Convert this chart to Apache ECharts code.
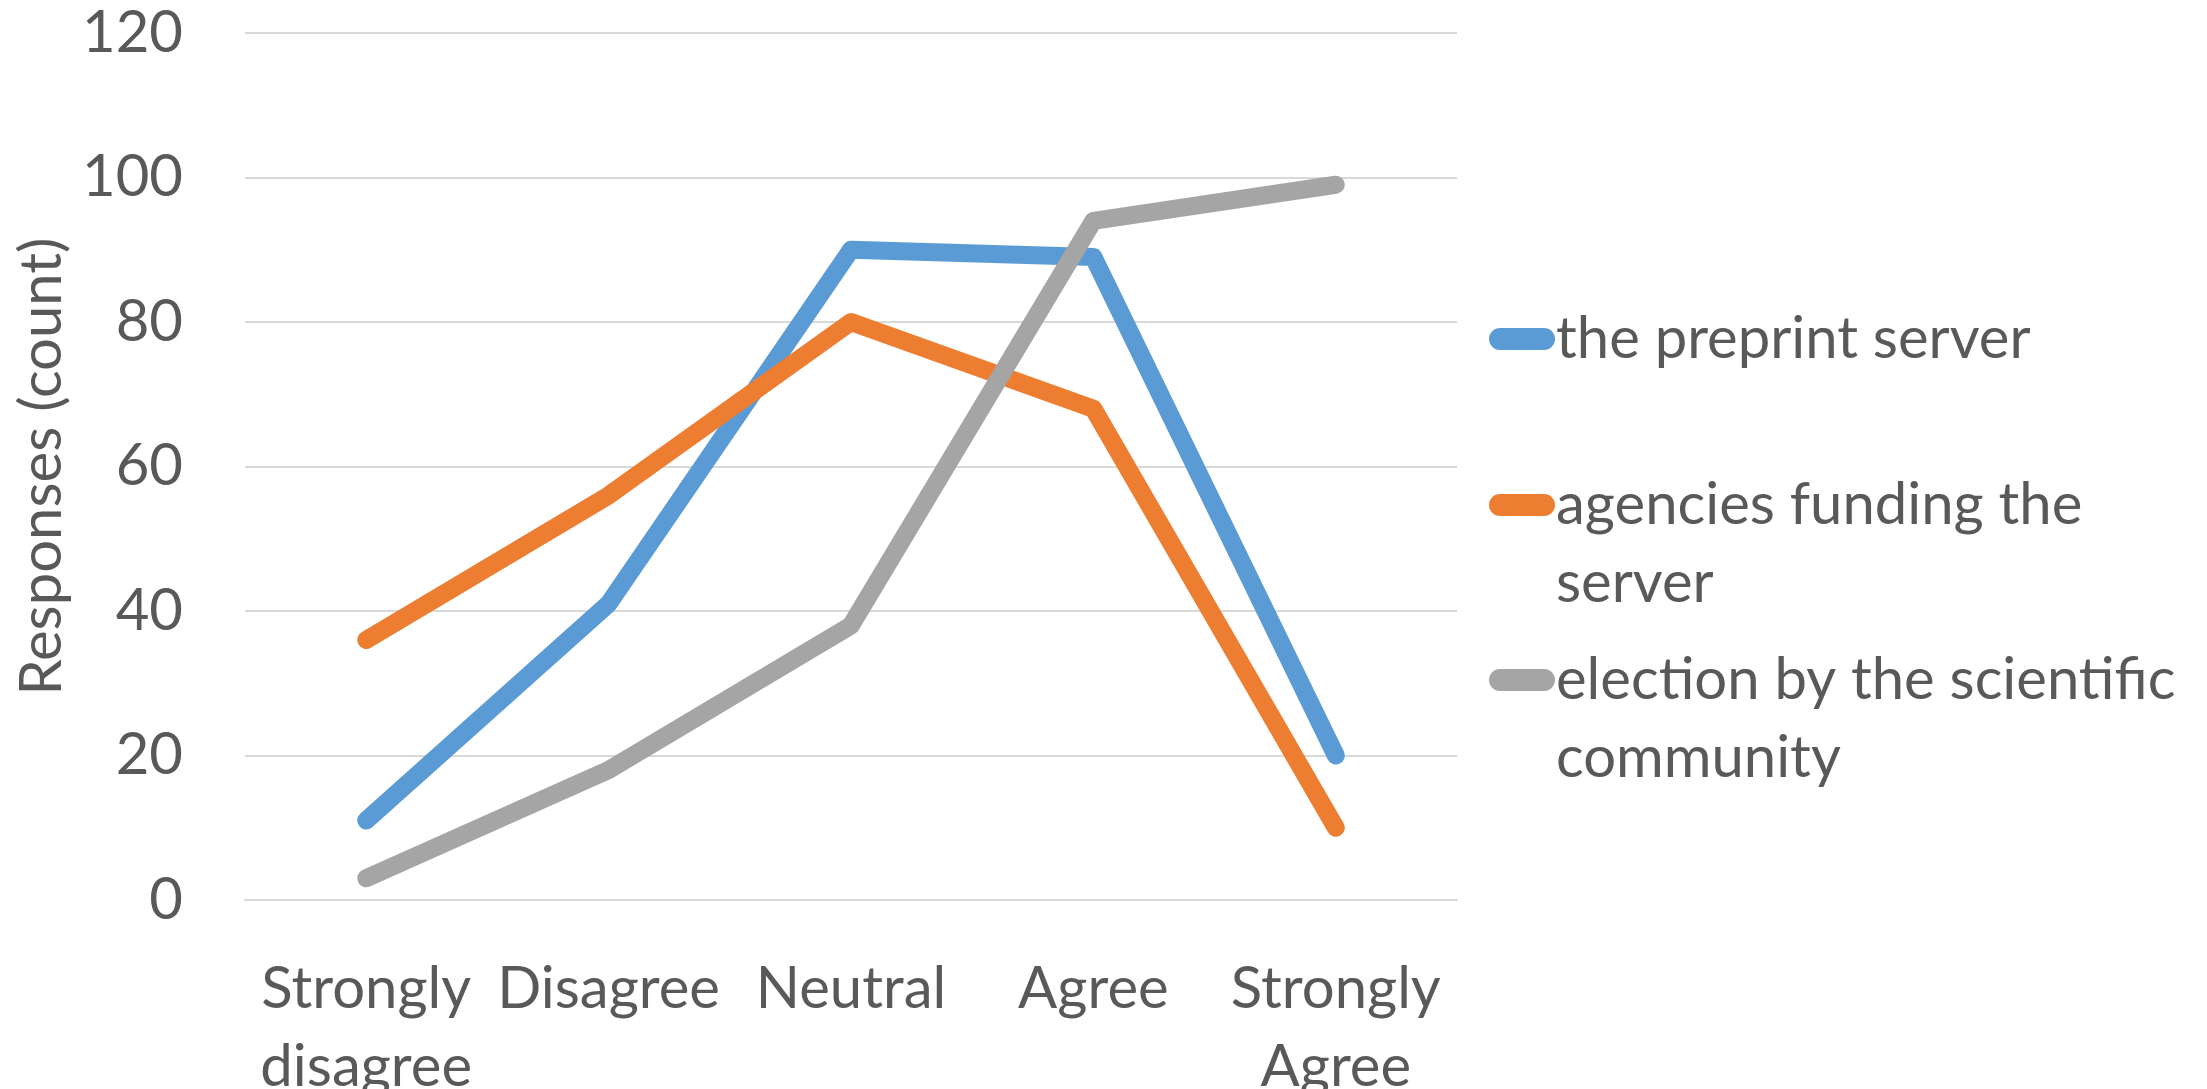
<!DOCTYPE html>
<html>
<head>
<meta charset="utf-8">
<script src="https://cdn.jsdelivr.net/npm/echarts@6/dist/echarts.min.js"></script>
<style>
  html, body { margin: 0; padding: 0; background: #ffffff; }
  #chart { width: 2207px; height: 1089px; }
</style>
</head>
<body>
<div id="chart"></div>
<script>
// Survey answers: who should run / govern the preprint server
const categories = ['Strongly\ndisagree', 'Disagree', 'Neutral', 'Agree', 'Strongly\nAgree'];
const preprintServer = [11, 41, 90, 89, 20];
const fundingAgencies = [36, 56, 80, 68, 10];
const scientificElection = [3, 18, 38, 94, 99];
const yTicks = { min: 0, max: 120, interval: 20 };

const seriesNames = ['the preprint server', 'agencies funding the\nserver', 'election by the scientific\ncommunity'];
const colors = ['#5B9BD5', '#ED7D31', '#A5A5A5'];

const FONT = 'Lato, "Open Sans", sans-serif';
const TEXT = '#595959';
const FS = 58;
const LH = 78;

// capsule-shaped legend key
const capsule = 'path://M11,0 H55 A11,11 0 0 1 55,22 H11 A11,11 0 0 1 11,0 Z';

// One legend block per series so each key lines up with the first line of its text.
function legendFor(i, top, twoLine) {
  return {
    orient: 'vertical',
    left: 1489,
    top: top,
    padding: 0,
    icon: capsule,
    itemWidth: 66,
    itemHeight: 22,
    itemGap: 0,
    selectedMode: false,
    data: [seriesNames[i]],
    // a leading blank line keeps the key level with the first text line
    formatter: name => (twoLine ? '\n' + name : name),
    textStyle: { fontFamily: FONT, fontSize: FS, lineHeight: LH, color: TEXT, padding: [0, 0, 0, -4] }
  };
}

function lineSeries(i, values) {
  return {
    name: seriesNames[i],
    type: 'line',
    data: values,
    symbol: 'none',
    color: colors[i],
    lineStyle: { width: 18, color: colors[i], cap: 'round', join: 'round' },
    emphasis: { disabled: true },
    silent: true
  };
}

const chart = echarts.init(document.getElementById('chart'));
chart.setOption({
  backgroundColor: '#ffffff',
  animation: false,
  grid: { left: 245, right: 750, top: 33, bottom: 189, containLabel: false, outerBoundsMode: 'none' },
  legend: [
    legendFor(0, 300, false),
    legendFor(1, 388, true),
    legendFor(2, 563, true)
  ],
  xAxis: {
    type: 'category',
    data: categories,
    boundaryGap: true,
    axisLine: { show: true, lineStyle: { color: '#D9D9D9', width: 2 } },
    axisTick: { show: false },
    axisLabel: {
      interval: 0,
      margin: 50,
      fontFamily: FONT,
      fontSize: FS,
      lineHeight: LH,
      color: TEXT
    }
  },
  yAxis: {
    type: 'value',
    min: yTicks.min,
    max: yTicks.max,
    interval: yTicks.interval,
    name: 'Responses (count)',
    nameLocation: 'middle',
    nameGap: 162,
    nameTextStyle: { fontFamily: FONT, fontSize: FS, color: TEXT },
    axisLine: { show: false },
    axisTick: { show: false },
    axisLabel: { margin: 62, fontFamily: FONT, fontSize: FS, color: TEXT },
    splitLine: { lineStyle: { color: '#D9D9D9', width: 2 } }
  },
  series: [
    lineSeries(0, preprintServer),
    lineSeries(1, fundingAgencies),
    lineSeries(2, scientificElection)
  ]
});
</script>
</body>
</html>
